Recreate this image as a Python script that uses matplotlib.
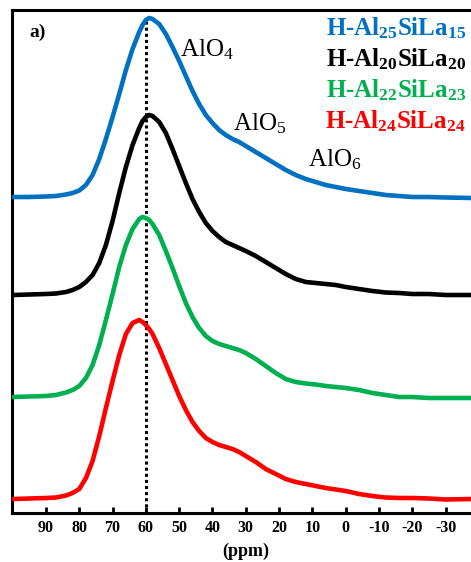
import matplotlib
matplotlib.use("Agg")
import matplotlib.pyplot as plt
import numpy as np

plt.rcParams['font.family'] = 'Liberation Serif'
plt.rcParams['mathtext.fontset'] = 'custom'
plt.rcParams['mathtext.rm'] = 'Liberation Serif'
plt.rcParams['mathtext.bf'] = 'Liberation Serif:bold'
plt.rcParams['mathtext.it'] = 'Liberation Serif:italic'

# chemical shift grid (ppm)
ppm = [100, 95, 90, 87, 84, 82, 80, 78, 76, 74, 72, 70, 68, 66, 64, 62, 61, 60, 59, 58,
       56, 54, 52, 50, 48, 46, 44, 42, 40, 38, 36, 34, 32, 30, 27, 24, 21, 18, 15, 12,
       9, 6, 3, 0, -4, -8, -12, -16, -20, -25, -30, -38]

# intensities above each baseline (arbitrary units)
h_al25 = [0, 0, 0.5, 1, 2.5, 4, 6.5, 12, 22, 38, 58, 80, 103, 127, 148, 165, 172, 177, 179, 178,
          173, 163, 150, 136, 121, 106, 93, 82, 74, 67, 62, 58, 55, 51, 45, 39, 33, 27, 22, 18,
          15, 12, 10, 8, 6, 4, 2, 1, 0, 0, -0.5, -1]
h_al20 = [0, 0.5, 1, 1.5, 3, 5, 8, 13, 20, 32, 50, 74, 102, 128, 150, 167, 174, 178, 180, 179,
          173, 162, 146, 129, 112, 96, 83, 72, 64, 58, 53, 50, 47, 44, 39, 33, 27, 21, 16, 13,
          12, 11, 10, 8, 6, 4, 2.5, 2, 1, 1, 0, 0]
h_al22 = [0, 0.5, 1, 2, 4.5, 7, 11, 19, 32, 52, 77, 103, 130, 152, 168, 178, 180, 179, 177, 173,
          162, 146, 129, 111, 94, 80, 69, 61, 56, 53, 51, 49, 47, 44, 38, 31, 24, 18, 15, 13.5,
          12.5, 11, 10, 9, 7, 4, 2, 0, 0, -1, -1, -1]
h_al24 = [0, 0.5, 1, 1.5, 3.5, 6, 10, 21, 38, 63, 91, 118, 144, 165, 176, 179, 177, 174, 170, 165,
          151, 135, 119, 103, 89, 77, 68, 61, 57, 54, 52, 50, 47, 43, 37, 30, 25, 20, 17, 15,
          13, 11, 9.5, 8, 5, 3, 1.5, 1, 1, 0.5, -0.5, 0]

series = [h_al25, h_al20, h_al22, h_al24]
names = [r"H-Al$_\mathbf{25}$SiLa$_\mathbf{15}$",
         r"H-Al$_\mathbf{20}$SiLa$_\mathbf{20}$",
         r"H-Al$_\mathbf{22}$SiLa$_\mathbf{23}$",
         r"H-Al$_\mathbf{24}$SiLa$_\mathbf{24}$"]
colors = ['#0070C0', '#000000', '#00B050', '#FF0000']
offsets = [316, 218, 116, 14]

xticks = [90, 80, 70, 60, 50, 40, 30, 20, 10, 0, -10, -20, -30]
xticklabels = [str(t) for t in xticks]

fig = plt.figure(figsize=(4.71, 5.62), dpi=100)
ax = fig.add_axes([12 / 471, 49 / 562, 466.9 / 471, 503 / 562])

for y, c, off in zip(series, colors, offsets):
    ax.plot(ppm, np.array(y) + off, color=c, lw=3.3, solid_joinstyle='round',
            solid_capstyle='round', zorder=3)

# dotted guide at the AlO4 maximum
ax.vlines(60, 0, offsets[0] + max(h_al25), colors='black', linestyles=(0, (1, 1)),
          lw=2.2, zorder=2)

ax.set_xlim(100.2, -40)
ax.set_ylim(0, 503)
ax.set_yticks([])
ax.set_xticks(xticks)
ax.set_xticklabels(xticklabels, fontweight='bold', fontsize=11.5)
ax.tick_params(axis='x', direction='in', length=4, width=2, pad=5)
for s in ['left', 'top', 'bottom', 'right']:
    ax.spines[s].set_linewidth(2.2)
ax.set_xlabel('(ppm)', fontweight='bold', fontsize=13, labelpad=5)

ax.text(0.038, 0.955, 'a)', transform=ax.transAxes, fontweight='bold', fontsize=14,
        va='center', ha='left')

ax.text(49.7, 457, r'AlO$_\mathrm{4}$', fontsize=18, va='baseline', ha='left')
ax.text(33.8, 383, r'AlO$_\mathrm{5}$', fontsize=18, va='baseline', ha='left')
ax.text(11.3, 347, r'AlO$_\mathrm{6}$', fontsize=18, va='baseline', ha='left')

for i, (n, c) in enumerate(zip(names, colors)):
    ax.text(0.972, 0.950 - i * 0.0615, n, transform=ax.transAxes, color=c,
            fontweight='bold', fontsize=18, ha='right', va='baseline')

fig.savefig('out.png', dpi=100)
